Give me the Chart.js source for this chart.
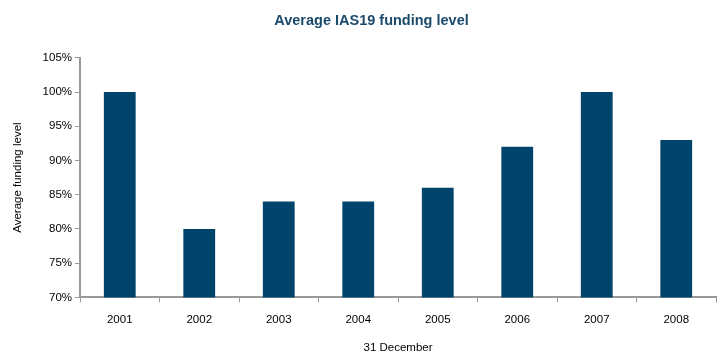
<!DOCTYPE html>
<html lang="en">
<head>
    <meta charset="UTF-8">
    <title>Average IAS19 funding level</title>
    <script src="https://cdn.jsdelivr.net/npm/chart.js"></script>
    <style>
        body, html {
            margin: 0;
            padding: 0;
            background: #fff;
        }
        #chart-container {
            width: 721px;
            height: 352px;
        }
    </style>
</head>
<body>

<div id="chart-container">
    <canvas id="fundingChart"></canvas>
</div>

<script>
    const years = ['2001', '2002', '2003', '2004', '2005', '2006', '2007', '2008'];
    const fundingLevel = [100, 80, 84, 84, 86, 92, 100, 93];
    const chartTitle = 'Average IAS19 funding level';

    const navy = '#00446b';
    const axisGrey = '#999999';
    Chart.defaults.font.family = '"Liberation Sans", Arial, sans-serif';
    Chart.defaults.color = '#000';

    // title sits a little right of the canvas centre in the original
    const offsetTitle = {
        id: 'offsetTitle',
        afterDraw(chart) {
            const c = chart.ctx;
            c.save();
            c.font = 'bold 14.5px "Liberation Sans", Arial, sans-serif';
            c.fillStyle = '#1b4a6b';
            c.textAlign = 'center';
            c.textBaseline = 'middle';
            c.fillText(chartTitle, chart.width / 2 + 11, 21);
            c.restore();
        }
    };

    const ctx = document.getElementById('fundingChart').getContext('2d');
    new Chart(ctx, {
        type: 'bar',
        data: {
            labels: years,
            datasets: [{
                data: fundingLevel,
                backgroundColor: navy,
                categoryPercentage: 1,
                barPercentage: 0.4
            }]
        },
        options: {
            responsive: true,
            maintainAspectRatio: false,
            animation: false,
            layout: {
                padding: { left: 11, right: 5, top: 0, bottom: 0 }
            },
            plugins: {
                legend: { display: false },
                tooltip: { enabled: false },
                title: {
                    // keeps the space; the text is drawn by offsetTitle
                    display: true,
                    text: chartTitle,
                    color: 'rgba(0,0,0,0)',
                    font: { size: 14, weight: 'bold' },
                    padding: { top: 12, bottom: 29 }
                }
            },
            scales: {
                x: {
                    grid: {
                        display: true,
                        drawOnChartArea: false,
                        offset: true,
                        color: axisGrey,
                        tickLength: 5
                    },
                    border: { color: axisGrey, width: 2 },
                    ticks: { font: { size: 11.5 }, padding: 11 },
                    title: {
                        display: true,
                        text: '31 December',
                        font: { size: 11.5 },
                        padding: { top: 3, bottom: -3 }
                    }
                },
                y: {
                    min: 70,
                    max: 105,
                    afterFit: axis => { axis.width = 69; },
                    grid: {
                        display: true,
                        drawOnChartArea: false,
                        color: axisGrey,
                        tickLength: 5
                    },
                    border: { color: axisGrey, width: 2 },
                    ticks: {
                        stepSize: 5,
                        font: { size: 11.5 },
                        padding: 3,
                        callback: v => v + '%'
                    },
                    title: {
                        display: true,
                        text: 'Average funding level',
                        font: { size: 11.5 },
                        padding: { top: 0, bottom: 6 }
                    }
                }
            }
        },
        plugins: [offsetTitle]
    });
</script>

</body>
</html>
